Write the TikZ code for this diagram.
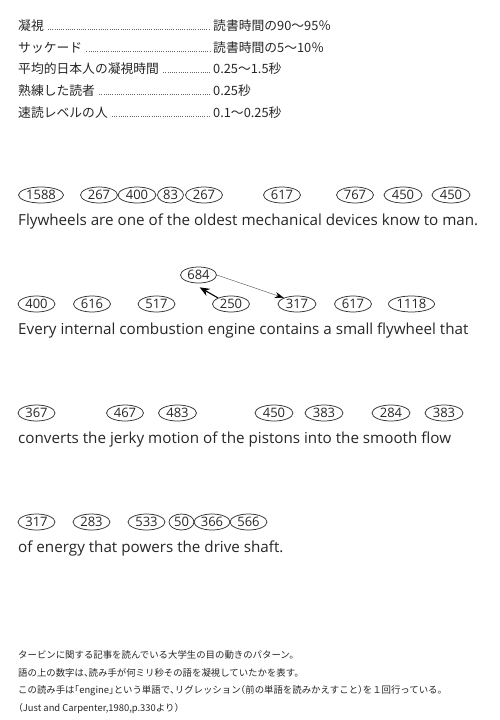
\documentclass[tikz,border=0pt]{standalone}
\usepackage{fontspec}
\setmainfont{Open Sans}
\newfontfamily\jp{Noto Sans CJK JP}
\usetikzlibrary{shapes.geometric,arrows.meta}
\newcommand\hw[1]{{\addfontfeatures{RawFeature=+halt}#1}}
\tikzset{
  num/.style={ellipse,draw=black!80,line width=0.75pt,inner sep=0pt,minimum height=16pt,font=\fontsize{13}{14}\selectfont,text=black!85},
  sent/.style={anchor=west,inner sep=0pt,font=\fontsize{15.2}{17}\selectfont,text=black!85},
  jlab/.style={anchor=west,inner sep=0pt,font=\jp\fontsize{12.8}{14}\selectfont,text=black!85},
  lead/.style={line width=0.7pt,dash pattern=on 0.7pt off 1.5pt,black!60},
  captext/.style={anchor=west,inner sep=0pt,font=\jp\fontsize{9.4}{10}\selectfont,text=black!85}
}
\begin{document}
\begin{tikzpicture}[x=1pt,y=-1pt]
\useasboundingbox (0,0) rectangle (500,720);
% top list
\node[jlab] (l1) at (18,26) {凝視};
\node[jlab] (l2) at (18,47.5) {サッケード};
\node[jlab] (l3) at (18,69) {平均的日本人の凝視時間};
\node[jlab] (l4) at (18,91) {熟練した読者};
\node[jlab] (l5) at (18,113) {速読レベルの人};
\node[jlab] (v1) at (213,26) {読書時間の90～95％};
\node[jlab] (v2) at (213,47.5) {読書時間の5～10％};
\node[jlab] (v3) at (213,69) {0.25～1.5秒};
\node[jlab] (v4) at (213,91) {0.25秒};
\node[jlab] (v5) at (213,113) {0.1～0.25秒};
\foreach \i in {1,...,5}{
  \draw[lead] ([xshift=4pt,yshift=-3.5pt]l\i.east) -- ([xshift=-3pt,yshift=-3.5pt]v\i.west);
}
% row 1
\node[num,minimum width=45pt] (a1) at (41,195) {1588};
\node[num,minimum width=37pt] (a2) at (99,195) {267};
\node[num,minimum width=38pt] (a3) at (137,195) {400};
\node[num,minimum width=26pt] (a4) at (170.5,195) {83};
\node[num,minimum width=37pt] (a5) at (204,195) {267};
\node[num,minimum width=37pt] (a6) at (282,195) {617};
\node[num,minimum width=37pt] (a7) at (355,195) {767};
\node[num,minimum width=38pt] (a8) at (403,195) {450};
\node[num,minimum width=38pt] (a9) at (451,195) {450};
\node[sent] (s1) at (18,222) {Flywheels are one of the oldest mechanical devices know to man.};
% row 2
\node[num,minimum width=36pt] (b0) at (198.5,275) {684};
\node[num,minimum width=37pt] (b1) at (36.5,304) {400};
\node[num,minimum width=37pt] (b2) at (92,304) {616};
\node[num,minimum width=37pt] (b3) at (156.5,304) {517};
\node[num,minimum width=37pt] (b4) at (231,304) {250};
\node[num,minimum width=38pt] (b5) at (297,304) {317};
\node[num,minimum width=37pt] (b6) at (353,304) {617};
\node[num,minimum width=46pt] (b7) at (411.5,304) {1118};
\node[sent] (s2) at (18,331) {Every internal combustion engine contains a small flywheel that};
\draw[line width=1.1pt,-{Stealth[length=10pt,width=8pt]}] (b4.155) -- ([yshift=-4pt]b0.278);
\draw[line width=0.4pt,black!70,-{Stealth[length=9pt,width=6pt,black]}] (b0.east) -- (b5.155);
% row 3
\node[num,minimum width=37pt] (c1) at (36.5,413) {367};
\node[num,minimum width=37pt] (c2) at (125,413) {467};
\node[num,minimum width=38pt] (c3) at (177.5,413) {483};
\node[num,minimum width=38pt] (c4) at (274,413) {450};
\node[num,minimum width=38pt] (c5) at (324,413) {383};
\node[num,minimum width=38pt] (c6) at (391,413) {284};
\node[num,minimum width=38pt] (c7) at (444,413) {383};
\node[sent] (s3) at (18,440) {converts the jerky motion of the pistons into the smooth flow};
% row 4
\node[num,minimum width=37pt] (d1) at (36.5,522) {317};
\node[num,minimum width=37pt] (d2) at (91.5,522) {283};
\node[num,minimum width=37pt] (d3) at (146.5,522) {533};
\node[num,minimum width=25pt] (d4) at (181.5,522) {50};
\node[num,minimum width=36pt] (d5) at (212,522) {366};
\node[num,minimum width=37pt] (d6) at (248.5,522) {566};
\node[sent] (s4) at (18,549) {of energy that powers the drive shaft.};
% caption
\node[captext] (k1) at (18,655) {タービンに関する記事を読んでいる大学生の目の動きのパターン。};
\node[captext] (k2) at (18,672.5) {語の上の数字は\hw{、}読み手が何ミリ秒その語を凝視していたかを表す。};
\node[captext] (k3) at (18,690.5) {この読み手は\hw{「}engine\hw{」}という単語で\hw{、}リグレッション\hw{（}前の単語を読みかえすこと\hw{）}を１回行っている。};
\node[captext] (k4) at (18,708.5) {\hw{（}Just and Carpenter,1980,p.330より\hw{）}};
\end{tikzpicture}
\end{document}
